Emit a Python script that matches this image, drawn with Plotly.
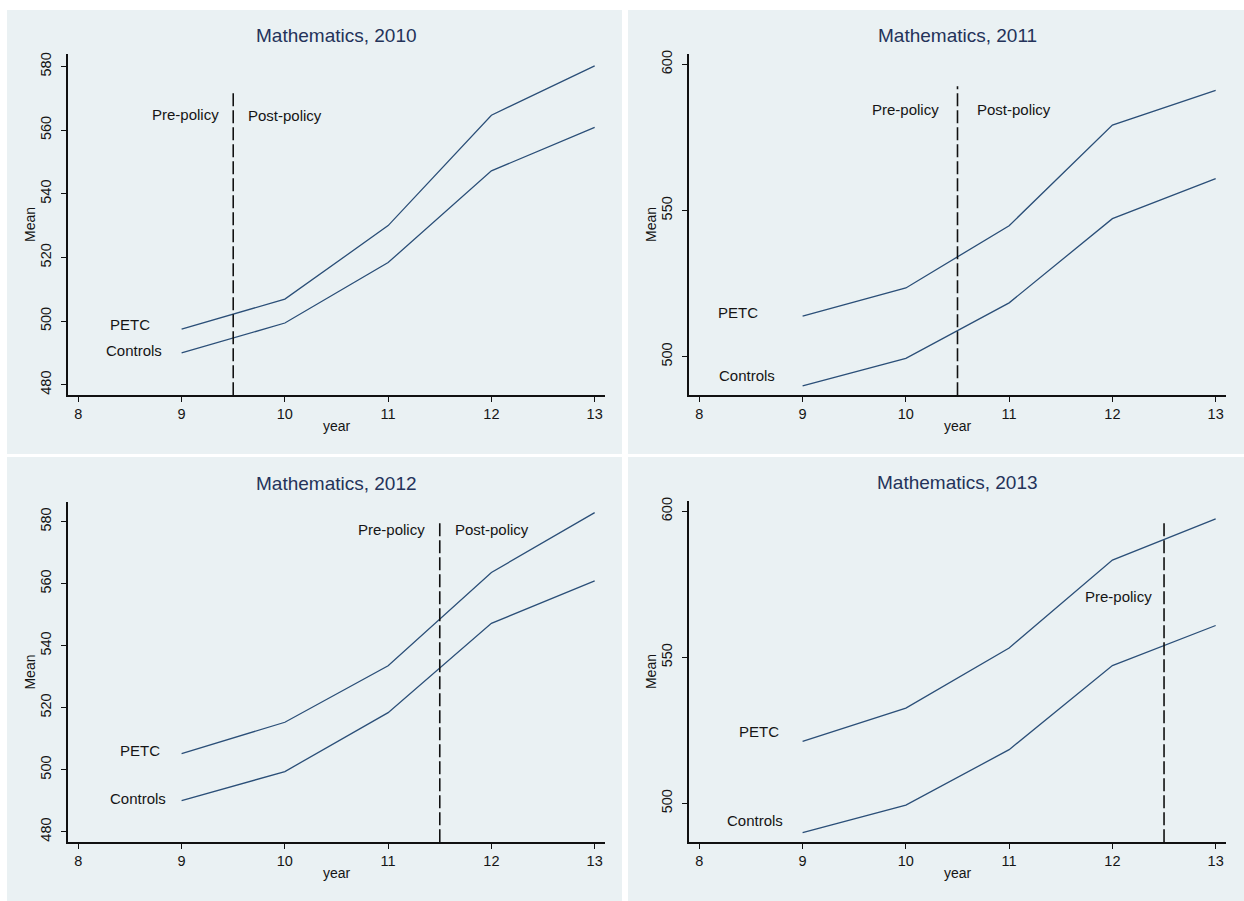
import plotly.graph_objects as go

# ---- data -------------------------------------------------------------
years = [9, 10, 11, 12, 13]
controls = [490.0, 499.4, 518.4, 547.2, 560.9]
petc_2010 = [497.5, 506.9, 530.0, 564.7, 580.2]
petc_2011 = [513.9, 523.5, 544.8, 579.2, 591.1]
petc_2012 = [505.2, 515.3, 533.5, 563.6, 582.9]
petc_2013 = [521.2, 532.6, 553.2, 583.3, 597.4]

cohorts = ["2010", "2011", "2012", "2013"]
policy_cut = [9.5, 10.5, 11.5, 12.5]
cut_top = [571.7, 592.5, 579.7, 597.2]

pre_label_x = [9.383, 10.345, 11.375, 12.40]
pre_label_y = [564.3, 583.8, 576.8, 570.1]
post_label_x = [9.625, 10.665, 11.626, None]
post_label_y = [564.0, 583.8, 576.8, None]
petc_label_x = [8.716, 8.59, 8.815, 8.795]
petc_label_y = [498.3, 514.4, 505.7, 523.8]
ctrl_label_x = [8.83, 8.75, 8.873, 8.833]
ctrl_label_y = [490.2, 492.8, 490.2, 493.3]

x_ticks = [8, 9, 10, 11, 12, 13]
y_ticks = [[480, 500, 520, 540, 560, 580], [500, 550, 600],
           [480, 500, 520, 540, 560, 580], [500, 550, 600]]
y_ranges = [[476.7, 584.0], [486.8, 603.6], [476.6, 586.4], [486.7, 603.6]]
x_range = [7.9, 13.1]

# ---- layout geometry (pixels) ----------------------------------------
W, H = 1244, 901
plot_boxes = [(68, 605, 50, 393), (689, 1226, 50, 393),
              (68, 605, 500, 842), (689, 1226, 499, 842)]
panel_boxes = [(7, 622, 6, 452), (628, 1244, 6, 452),
               (7, 622, 455, 901), (628, 1244, 455, 901)]

BG = "#EAF1F3"
LINE = "#2b4f78"
FONT = "Liberation Sans, Arial, sans-serif"

fig = go.Figure()
shapes = []
annotations = []
petc_all = [petc_2010, petc_2011, petc_2012, petc_2013]

for i in range(4):
    sfx = "" if i == 0 else str(i + 1)
    xa, ya = "x" + sfx, "y" + sfx
    x0, x1, y0, y1 = plot_boxes[i]
    px0, px1, py0, py1 = panel_boxes[i]

    shapes.append(dict(type="rect", xref="paper", yref="paper", layer="below",
                       x0=px0 / W, x1=px1 / W, y0=1 - py1 / H, y1=1 - py0 / H,
                       fillcolor=BG, line=dict(width=0)))

    for series in (petc_all[i], controls):
        fig.add_trace(go.Scatter(x=years, y=series, mode="lines", xaxis=xa, yaxis=ya,
                                 line=dict(color=LINE, width=1.3), showlegend=False,
                                 hoverinfo="skip"))

    fig.add_trace(go.Scatter(x=[policy_cut[i], policy_cut[i]],
                             y=[y_ranges[i][0], cut_top[i]], mode="lines",
                             xaxis=xa, yaxis=ya, showlegend=False, hoverinfo="skip",
                             line=dict(color="#111111", width=1.6, dash="13px,4px")))

    txt = dict(family=FONT, size=15, color="#151515")
    lab = dict(showarrow=False, yanchor="middle", yshift=2, font=txt)
    annotations.append(dict(lab, x=pre_label_x[i], y=pre_label_y[i], xref=xa, yref=ya,
                            text="Pre-policy", xanchor="right"))
    if post_label_x[i] is not None:
        annotations.append(dict(lab, x=post_label_x[i], y=post_label_y[i], xref=xa,
                                yref=ya, text="Post-policy", xanchor="left"))
    annotations.append(dict(lab, x=petc_label_x[i], y=petc_label_y[i], xref=xa, yref=ya,
                            text="PETC", xanchor="right"))
    annotations.append(dict(lab, x=ctrl_label_x[i], y=ctrl_label_y[i], xref=xa, yref=ya,
                            text="Controls", xanchor="right"))
    annotations.append(dict(x=(x0 + x1) / 2 / W, y=1 - (y0 - 15) / H, xref="paper",
                            yref="paper", text="Mathematics, " + cohorts[i],
                            showarrow=False, xanchor="center", yanchor="middle",
                            yshift=3,
                            font=dict(family=FONT, size=19, color="#24335a")))

    axis_common = dict(showline=True, linecolor="#111111", linewidth=1.5,
                       ticks="outside", ticklen=5, tickwidth=1, tickcolor="#111111",
                       zeroline=False, fixedrange=True,
                       tickfont=dict(family=FONT, size=14.5, color="#151515"),
                       title_font=dict(family=FONT, size=14, color="#151515"))
    fig.layout["xaxis" + sfx] = dict(axis_common, domain=[x0 / W, x1 / W],
                                     anchor=ya, range=x_range, tickvals=x_ticks,
                                     showgrid=False, title=dict(text="year", standoff=0))
    fig.layout["yaxis" + sfx] = dict(axis_common, domain=[1 - y1 / H, 1 - y0 / H],
                                     anchor=xa, range=y_ranges[i], tickvals=y_ticks[i],
                                     tickangle=-90, showgrid=True, gridcolor=BG,
                                     gridwidth=1, ticklabelstandoff=4,
                                     title=dict(text="Mean", standoff=0))

fig.update_layout(width=W, height=H, margin=dict(l=0, r=0, t=0, b=0),
                  paper_bgcolor="white", plot_bgcolor="white",
                  shapes=shapes, annotations=annotations,
                  font=dict(family=FONT))

fig.write_html("out.html")
